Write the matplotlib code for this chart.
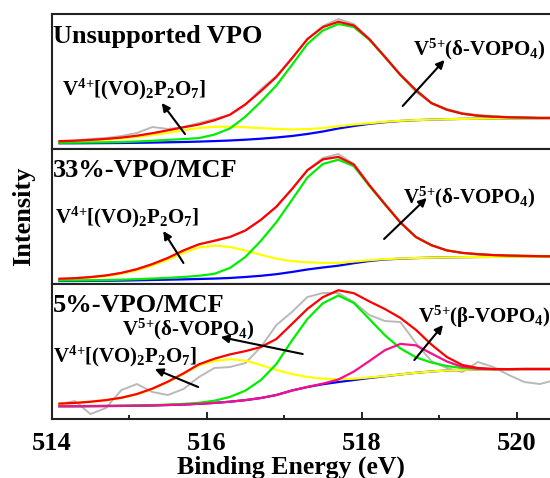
import numpy as np
import matplotlib
matplotlib.use("Agg")
import matplotlib.pyplot as plt

plt.rcParams['font.family'] = 'Liberation Serif'
plt.rcParams['font.weight'] = 'bold'
plt.rcParams['axes.labelweight'] = 'bold'
plt.rcParams['mathtext.fontset'] = 'custom'
plt.rcParams['mathtext.default'] = 'regular'

# binding energy grid (eV)
be = np.round(np.arange(514.1, 520.6, 0.2), 1)

# Unsupported VPO
top_bg = [5.7, 5.7, 5.8, 5.9, 6.0, 6.2, 6.4, 6.7, 7.0, 7.4, 7.9, 8.5, 9.3, 10.3, 11.5, 13.0, 15.0,
          17.5, 20.5, 23.0, 25.2, 26.8, 28.0, 28.8, 29.4, 29.8, 30.1, 30.3, 30.5, 30.6, 30.7, 30.7, 30.8]
top_v4 = [1.6, 2.0, 2.6, 3.4, 4.4, 5.8, 7.6, 9.6, 11.8, 13.6, 14.3, 13.8, 12.4, 10.6, 8.6, 6.6, 4.9,
          3.4, 2.3, 1.5, 0.6, 0.4, 0.2, 0.1, 0.0, 0, 0, 0, 0, 0, 0, 0, 0]
top_v5 = [0.5, 0.6, 0.7, 0.8, 1.0, 1.3, 1.8, 2.4, 2.9, 3.5, 6.5, 12.0, 23.0, 37.0, 52.0, 71.0, 90.0,
          101.0, 104.5, 99.0, 84.0, 65.0, 46.0, 30.0, 16.5, 9.5, 5.2, 3.0, 1.8, 1.1, 0.7, 0.4, 0.3]
top_raw = [8.0, 8.5, 10.0, 11.0, 13.0, 16.0, 22.0, 20.0, 22.0, 26.0, 30.0, 34.0, 44.0, 60.0, 73.0, 91.0, 110.0,
           123.0, 130.0, 125.0, 110.0, 92.0, 74.0, 57.0, 46.0, 40.0, 36.0, 34.0, 33.0, 32.0, 31.5, 31.0, 31.0]

# 33%-VPO/MCF
mid_bg = [3.0, 3.0, 3.1, 3.2, 3.4, 3.7, 4.0, 4.3, 4.6, 5.0, 5.4, 6.0, 7.0, 8.2, 9.8, 12.0, 14.5,
          16.5, 18.3, 20.8, 23.0, 24.5, 25.3, 25.9, 26.3, 26.6, 26.8, 27.0, 27.1, 27.2, 27.3, 27.3, 27.3]
mid_v4 = [1.7, 2.3, 3.2, 4.6, 6.8, 10.0, 14.5, 20.0, 26.5, 31.5, 33.0, 31.0, 26.5, 21.0, 15.5, 10.8, 7.2,
          4.6, 2.8, 1.6, 0.8, 0.4, 0.2, 0.1, 0, 0, 0, 0, 0, 0, 0, 0, 0]
mid_v5 = [0.5, 0.5, 0.6, 0.7, 0.9, 1.1, 1.4, 1.8, 2.4, 3.2, 4.8, 10.0, 20.0, 35.0, 52.0, 72.0, 92.0,
          103.5, 106.0, 97.0, 75.0, 55.0, 36.0, 21.0, 12.5, 7.0, 4.3, 2.8, 1.8, 1.2, 0.8, 0.5, 0.3]
mid_raw = [5.2, 5.8, 7.0, 8.6, 11.0, 15.0, 20.0, 26.0, 33.5, 39.5, 43.5, 47.0, 53.5, 64.0, 77.5, 95.0, 114.0,
           126.0, 130.0, 120.0, 99.0, 80.0, 62.0, 47.0, 39.0, 33.5, 31.0, 30.0, 29.0, 28.5, 28.0, 27.8, 27.6]

# 5%-VPO/MCF
bot_bg = [12.8, 12.8, 12.9, 13.0, 13.1, 13.3, 13.6, 14.0, 14.5, 15.2, 16.1, 17.3, 18.9, 21.0, 24.0, 28.5, 32.0,
          34.8, 37.0, 39.0, 41.0, 42.8, 44.6, 46.2, 47.5, 48.5, 49.2, 49.6, 49.8, 49.9, 50.0, 50.0, 50.0]
bot_v4 = [2.5, 3.2, 4.3, 5.8, 8.0, 11.5, 16.5, 23.0, 30.5, 38.5, 42.0, 42.5, 39.5, 33.0, 25.0, 16.5, 10.0,
          5.5, 2.8, 1.3, 0.6, 0.2, 0, 0, 0, 0, 0, 0, 0, 0, 0, 0, 0]
bot_v5d = [0.1, 0.1, 0.1, 0.1, 0.2, 0.2, 0.3, 0.4, 0.6, 1.0, 2.2, 4.8, 9.5, 18.0, 31.0, 50.0, 68.0,
           81.0, 86.5, 77.0, 59.0, 41.0, 26.0, 15.5, 9.0, 4.5, 1.8, 0.6, 0.2, 0, 0, 0, 0]
bot_v5b = [0, 0, 0, 0, 0, 0, 0, 0, 0, 0, 0, 0, 0, 0, 0, 0, 0.1,
           0.6, 2.5, 8.5, 17.0, 26.0, 30.5, 27.5, 18.0, 9.0, 3.0, 0.8, 0, 0, 0, 0, 0]
bot_raw = [15.0, 18.0, 5.0, 11.0, 29.0, 35.0, 27.0, 24.0, 30.0, 42.0, 51.0, 52.0, 56.0, 72.0, 94.0, 107.0, 122.0,
           126.0, 126.0, 117.0, 104.0, 98.0, 97.0, 76.0, 58.0, 51.0, 47.0, 57.0, 52.0, 44.0, 37.0, 35.0, 39.0]

lab_v4 = r'V$^{4\!+}\!$[(VO)$_2$P$_2$O$_7$]'
lab_v5d = r'V$^{5\!+}\!$(δ-VOPO$_4$)'
lab_v5b = r'V$^{5\!+}\!$(β-VOPO$_4$)'

fig = plt.figure(figsize=(5.5, 4.78), dpi=100)
left, width, h = 0.094, 0.9115, 0.2824
bottoms = [0.6883, 0.4059, 0.1234]
axs = [fig.add_axes([left, b, width, h]) for b in bottoms]


def draw(ax, raw, bg, peaks, peak_colors):
    bg = np.array(bg)
    ax.plot(be, raw, color='#b9b9b9', lw=1.4)
    ax.plot(be, bg, color='#0000ff', lw=1.6)
    for p, c in zip(peaks, peak_colors):
        ax.plot(be, bg + np.array(p), color=c, lw=1.6)
    ax.plot(be, bg + np.sum(peaks, axis=0), color='#ff0000', lw=1.6)


draw(axs[0], top_raw, top_bg, [top_v4, top_v5], ['#ffff00', '#00ee00'])
draw(axs[1], mid_raw, mid_bg, [mid_v4, mid_v5], ['#ffff00', '#00ee00'])
draw(axs[2], bot_raw, bot_bg, [bot_v4, bot_v5d, bot_v5b], ['#ffff00', '#00ee00', '#f5108f'])

arrow = dict(arrowstyle='-|>', color='k', lw=1.5, mutation_scale=12, shrinkA=0, shrinkB=0)
fs_t, fs_a = 19, 15

ax = axs[0]
ax.text(514.02, 106, 'Unsupported VPO', fontsize=fs_t)
ax.text(514.13, 54, lab_v4, fontsize=fs_a)
ax.annotate('', xy=(515.42, 46), xytext=(515.72, 15), arrowprops=arrow)
ax.text(518.66, 94, lab_v5d, fontsize=fs_a)
ax.annotate('', xy=(519.07, 89), xytext=(518.53, 43), arrowprops=arrow)

ax = axs[1]
ax.text(514.02, 107, '33%-VPO/MCF', fontsize=fs_t)
ax.text(514.04, 61, lab_v4, fontsize=fs_a)
ax.annotate('', xy=(515.44, 53), xytext=(515.70, 21), arrowprops=arrow)
ax.text(518.53, 81, lab_v5d, fontsize=fs_a)
ax.annotate('', xy=(518.84, 86), xytext=(518.29, 45), arrowprops=arrow)

ax = axs[2]
ax.text(514.02, 107, '5%-VPO/MCF', fontsize=fs_t)
ax.text(514.91, 84, lab_v5d, fontsize=fs_a)
ax.annotate('', xy=(516.18, 82), xytext=(517.24, 65), arrowprops=arrow)
ax.text(514.02, 57, lab_v4, fontsize=fs_a)
ax.annotate('', xy=(515.33, 50), xytext=(515.89, 32), arrowprops=arrow)
ax.text(518.73, 96, lab_v5b, fontsize=fs_a)
ax.annotate('', xy=(519.05, 94), xytext=(518.68, 59), arrowprops=arrow)

for ax in axs:
    ax.set_xlim(514, 520.47)
    ax.set_ylim(0, 135)
    ax.set_yticks([])
    for s in ax.spines.values():
        s.set_linewidth(1.5)
        s.set_color('#222222')
    ax.tick_params(axis='x', which='both', bottom=False, labelbottom=False, top=False)

ax = axs[2]
ax.set_xticks([514, 516, 518, 520])
ax.set_xticks([515, 517, 519], minor=True)
ax.tick_params(axis='x', which='both', direction='in', bottom=True, labelbottom=True,
               labelsize=19, width=1.2, pad=9)
ax.tick_params(axis='x', which='major', length=5)
ax.tick_params(axis='x', which='minor', length=3)
ax.set_xlabel('Binding Energy (eV)', fontsize=18.5, fontweight='bold', labelpad=0)
ax.xaxis.set_label_coords(0.478, -0.27)

fig.text(24 / 550, 1 - 216.5 / 478, 'Intensity', rotation=90, fontsize=19,
         fontweight='bold', ha='center', va='center')

fig.savefig('out.png', dpi=100)
